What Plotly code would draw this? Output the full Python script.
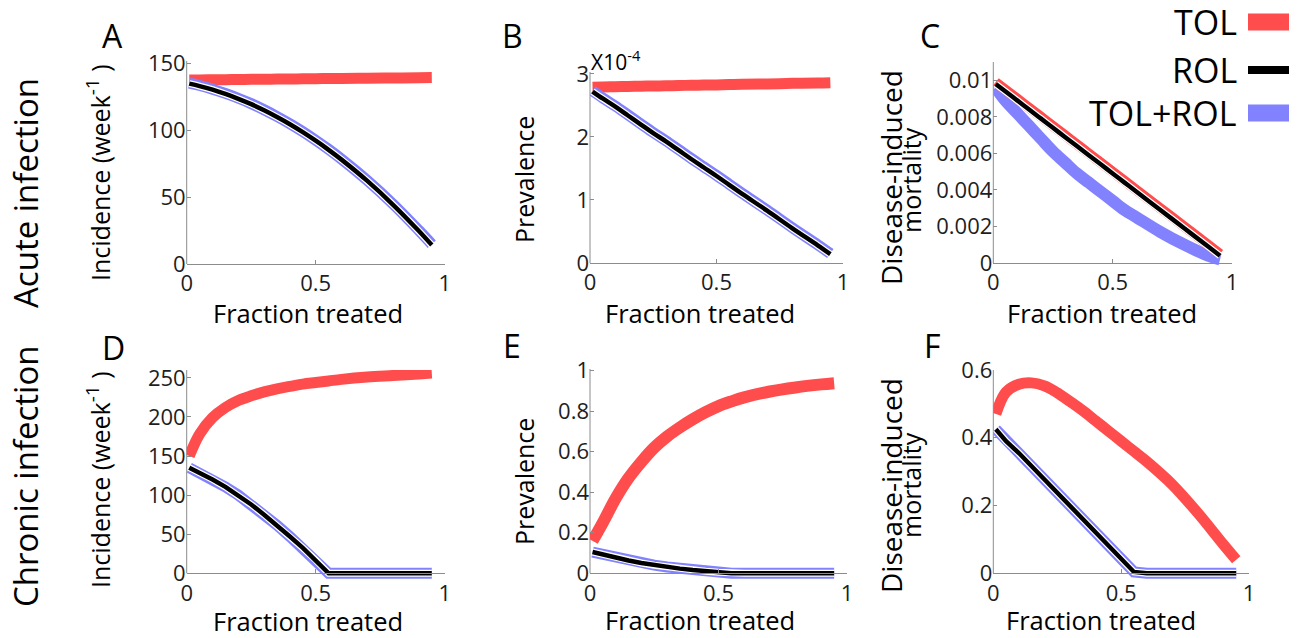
import plotly.graph_objects as go

W, H = 1300, 638

# ---------------- data ----------------
fraction_treated = [0.01, 0.05, 0.1, 0.15, 0.2, 0.25, 0.3, 0.35, 0.4, 0.45, 0.5, 0.55, 0.6, 0.7, 0.8, 0.9, 0.95]
x_tick_vals = [0, 0.5, 1]
x_tick_text = ["0", "0.5", "1"]
legend_names = ["TOL", "ROL", "TOL+ROL"]

# A: acute incidence (week^-1)
acute_inc_tol = [137.3, 137.4, 137.5, 137.6, 137.7, 137.8, 137.9, 138.0, 138.1, 138.2, 138.3, 138.4, 138.5, 138.6, 138.8, 139.0, 139.1]
acute_inc_rol = [134.6, 132.8, 130.1, 126.9, 123.3, 119.3, 114.7, 109.7, 104.3, 98.4, 92.0, 85.2, 77.9, 62.0, 44.2, 24.6, 14.1]
acute_inc_both = [135.0, 133.2, 130.5, 127.3, 123.7, 119.7, 115.1, 110.1, 104.7, 98.8, 92.4, 85.6, 78.3, 62.4, 44.7, 25.1, 14.8]
# B: acute prevalence (x 1e-4)
acute_prev_tol = [2.79, 2.793, 2.797, 2.80, 2.805, 2.807, 2.81, 2.815, 2.82, 2.822, 2.825, 2.83, 2.835, 2.84, 2.85, 2.855, 2.86]
acute_prev_rol = [2.72, 2.61, 2.48, 2.34, 2.20, 2.06, 1.93, 1.79, 1.65, 1.515, 1.38, 1.24, 1.10, 0.83, 0.55, 0.28, 0.14]
acute_prev_both = [2.73, 2.62, 2.49, 2.35, 2.21, 2.07, 1.94, 1.80, 1.66, 1.525, 1.39, 1.25, 1.11, 0.84, 0.56, 0.29, 0.15]
# C: acute disease-induced mortality
acute_mort_tol = [0.0099, 0.0095, 0.0090, 0.0085, 0.0080, 0.0075, 0.0070, 0.0065, 0.0060, 0.0055, 0.0050, 0.0045, 0.0040, 0.0030, 0.0020, 0.0010, 0.0005]
acute_mort_rol = [0.0098, 0.0094, 0.0089, 0.0084, 0.0079, 0.0074, 0.0069, 0.0064, 0.0059, 0.0054, 0.0049, 0.0044, 0.0039, 0.0029, 0.0019, 0.0009, 0.0004]
acute_mort_both = [0.0096, 0.0089, 0.0082, 0.0075, 0.0068, 0.0061, 0.0055, 0.0049, 0.0044, 0.0039, 0.0034, 0.0029, 0.0025, 0.0017, 0.0010, 0.0004, 0.0002]
# D: chronic incidence (week^-1)
chronic_inc_tol = [150, 178, 199, 212, 221, 227, 232, 236, 239, 242, 244, 246, 248, 251, 253, 255, 256]
chronic_inc_rol = [135, 129, 120, 110.5, 100, 88, 75, 61.5, 47, 32.5, 17, 0, 0, 0, 0, 0, 0]
chronic_inc_both = [135, 129, 120, 110.5, 100, 88, 75, 61.5, 47, 32.5, 17, 0, 0, 0, 0, 0, 0]
# E: chronic prevalence
chronic_prev_tol = [0.16, 0.25, 0.37, 0.47, 0.55, 0.62, 0.675, 0.72, 0.76, 0.795, 0.825, 0.848, 0.868, 0.897, 0.917, 0.932, 0.938]
chronic_prev_rol = [0.105, 0.092, 0.077, 0.063, 0.051, 0.04, 0.031, 0.023, 0.016, 0.01, 0.005, 0, 0, 0, 0, 0, 0]
chronic_prev_both = [0.105, 0.092, 0.077, 0.063, 0.051, 0.04, 0.031, 0.023, 0.016, 0.01, 0.005, 0, 0, 0, 0, 0, 0]
# F: chronic disease-induced mortality
chronic_mort_tol = [0.47, 0.535, 0.558, 0.562, 0.553, 0.533, 0.507, 0.48, 0.45, 0.42, 0.39, 0.36, 0.33, 0.262, 0.178, 0.085, 0.04]
chronic_mort_rol = [0.425, 0.39, 0.355, 0.316, 0.277, 0.238, 0.199, 0.16, 0.121, 0.082, 0.043, 0.004, 0, 0, 0, 0, 0]
chronic_mort_both = [0.425, 0.39, 0.355, 0.316, 0.277, 0.238, 0.199, 0.16, 0.121, 0.082, 0.043, 0.004, 0, 0, 0, 0, 0]

# ---------------- styling / layout ----------------
RED = "#FF4D4D"
BLUE = "#8282FF"
BLACK = "#000000"
AXIS_GRAY = "#8C8C8C"
TXT = "#1E1E1E"
FONT = "Open Sans"

panels = [
    dict(letter="A", tol=acute_inc_tol, rol=acute_inc_rol, both=acute_inc_both,
         box=(186.7, 444.7, 61, 264), ymax=151.5,
         yt=[0, 50, 100, 150], ytt=["0", "50", "100", "150"],
         wr=11, wb=11, spline_rol=True, red_on_top=False),
    dict(letter="B", tol=acute_prev_tol, rol=acute_prev_rol, both=acute_prev_both,
         box=(590, 843, 72, 263), ymax=3.03,
         yt=[0, 1, 2, 3], ytt=["0", "1", "2", "3"],
         wr=11, wb=11, spline_rol=True, red_on_top=False),
    dict(letter="C", tol=acute_mort_tol, rol=acute_mort_rol, both=acute_mort_both,
         box=(993.3, 1232, 62, 263), ymax=0.011,
         yt=[0, 0.002, 0.004, 0.006, 0.008, 0.01], ytt=["0", "0.002", "0.004", "0.006", "0.008", "0.01"],
         wr=10, wb=12, spline_rol=True, red_on_top=True),
    dict(letter="D", tol=chronic_inc_tol, rol=chronic_inc_rol, both=chronic_inc_both,
         box=(186.7, 444.7, 370, 573.3), ymax=260,
         yt=[0, 50, 100, 150, 200, 250], ytt=["0", "50", "100", "150", "200", "250"],
         wr=11, wb=11, spline_rol=False, red_on_top=False),
    dict(letter="E", tol=chronic_prev_tol, rol=chronic_prev_rol, both=chronic_prev_both,
         box=(590, 847, 369, 573.3), ymax=1.008,
         yt=[0, 0.2, 0.4, 0.6, 0.8, 1], ytt=["0", "0.2", "0.4", "0.6", "0.8", "1"],
         wr=12, wb=11, spline_rol=False, red_on_top=False),
    dict(letter="F", tol=chronic_mort_tol, rol=chronic_mort_rol, both=chronic_mort_both,
         box=(993.3, 1249, 370, 573.3), ymax=0.6,
         yt=[0, 0.2, 0.4, 0.6], ytt=["0", "0.2", "0.4", "0.6"],
         wr=11, wb=11, spline_rol=False, red_on_top=False),
]

PAD = 9  # px of extra drawing room under the zero line
TICK_SIZE = 22

fig = go.Figure()
shapes = []
layout_axes = {}

for i, p in enumerate(panels, start=1):
    xs = "" if i == 1 else str(i)
    xref, yref = "x" + xs, "y" + xs
    x0, x1, ytop, ybot = p["box"]
    k = (ybot - ytop) / p["ymax"]  # px per unit
    layout_axes["xaxis" + xs] = dict(
        domain=[x0 / W, x1 / W], range=[0, 1], anchor="free", position=1 - ybot / H,
        automargin=False,
        showline=True, linecolor=AXIS_GRAY, linewidth=1, ticks="inside", ticklen=4,
        tickcolor=AXIS_GRAY, tickvals=x_tick_vals, ticktext=x_tick_text,
        tickfont=dict(family=FONT, size=TICK_SIZE, color=TXT), showgrid=False, zeroline=False,
    )
    layout_axes["yaxis" + xs] = dict(
        domain=[1 - (ybot + PAD) / H, 1 - ytop / H], range=[-PAD / k, p["ymax"]],
        anchor=xref, automargin=False, showline=False, ticks="inside", ticklen=4,
        tickcolor=AXIS_GRAY, tickvals=p["yt"], ticktext=p["ytt"],
        tickfont=dict(family=FONT, size=TICK_SIZE, color=TXT), showgrid=False, zeroline=False,
    )
    shapes.append(dict(type="line", xref=xref + " domain", yref=yref, x0=0, x1=0,
                       y0=0, y1=p["ymax"], line=dict(color=AXIS_GRAY, width=1), layer="below"))

    shape_rol = "spline" if p["spline_rol"] else "linear"
    red = go.Scatter(x=fraction_treated, y=p["tol"], mode="lines", xaxis=xref, yaxis=yref,
                     line=dict(color=RED, width=p["wr"], shape="spline"), showlegend=False)
    blue = go.Scatter(x=fraction_treated, y=p["both"], mode="lines", xaxis=xref, yaxis=yref,
                      line=dict(color=BLUE, width=p["wb"], shape=shape_rol), showlegend=False)
    white = go.Scatter(x=fraction_treated, y=p["rol"], mode="lines", xaxis=xref, yaxis=yref,
                       line=dict(color="white", width=7, shape=shape_rol), showlegend=False)
    black = go.Scatter(x=fraction_treated, y=p["rol"], mode="lines", xaxis=xref, yaxis=yref,
                       line=dict(color=BLACK, width=4.5, shape=shape_rol), showlegend=False)
    order = [blue, red, white, black] if p["red_on_top"] else [red, blue, white, black]
    for t in order:
        fig.add_trace(t)

# ---------------- annotations ----------------
def px(xp, yp):
    return xp / W, 1 - yp / H

ann = []
def add_text(text, xp, yp, size, angle=0, xanchor="center", yanchor="middle"):
    ax, ay = px(xp, yp)
    ann.append(dict(text=text, x=ax, y=ay, xref="paper", yref="paper", showarrow=False,
                    textangle=angle, xanchor=xanchor, yanchor=yanchor,
                    font=dict(family=FONT, size=size, color="black")))

# panel letters
for letter, (lx, ly) in zip("ABCDEF", [(112, 35), (512, 35), (930, 35), (113, 347), (512, 345), (932, 345)]):
    add_text(letter, lx, ly, 32)

# row labels
add_text("Acute infection", 26, 193, 33, angle=-90)
add_text("Chronic infection", 25, 476, 33, angle=-90)

# y titles
inc_title = "Incidence (week<sup><span style=\"font-size:19px\">-1</span></sup> )"
add_text(inc_title, 98, 173, 25, angle=-90)
add_text(inc_title, 98, 480, 25, angle=-90)
add_text("Prevalence", 524, 180, 25, angle=-90)
add_text("Prevalence", 524, 482, 25, angle=-90)
add_text("Disease-induced", 891, 178, 28, angle=-90)
add_text("mortality", 911, 180, 25, angle=-90)
add_text("Disease-induced", 891, 486, 28, angle=-90)
add_text("mortality", 911, 485, 25, angle=-90)

# x titles
for (tx, ty) in [(308, 313), (700, 313), (1102, 313), (308, 621), (700, 620), (1101, 620)]:
    add_text("Fraction treated", tx, ty, 25.5)

# exponent label for B
add_text("X10<sup>-4</sup>", 589, 60, 21, xanchor="left")

# legend
leg_y = [22, 70, 113]
leg_colors = [RED, BLACK, BLUE]
leg_h = [17, 8, 17]
for name, yy, col, hh in zip(legend_names, leg_y, leg_colors, leg_h):
    add_text(name, 1239, yy, 34, xanchor="right")
    sx0, sy0 = px(1248, yy - hh / 2)
    sx1, sy1 = px(1289, yy + hh / 2)
    shapes.append(dict(type="rect", xref="paper", yref="paper", x0=sx0, x1=sx1, y0=sy1, y1=sy0,
                       fillcolor=col, line=dict(width=0)))

fig.update_layout(
    template="none",
    width=W, height=H, margin=dict(l=0, r=0, t=0, b=0, pad=0),
    paper_bgcolor="white", plot_bgcolor="rgba(0,0,0,0)",
    showlegend=False, annotations=ann, shapes=shapes,
    font=dict(family=FONT, color=TXT),
    hovermode=False,
    **layout_axes,
)

fig.write_html(
    "out.html",
    config={"displayModeBar": False, "staticPlot": True},
    post_script="document.body.style.margin='0';document.body.style.padding='0';"
                "document.documentElement.style.overflow='hidden';",
)
